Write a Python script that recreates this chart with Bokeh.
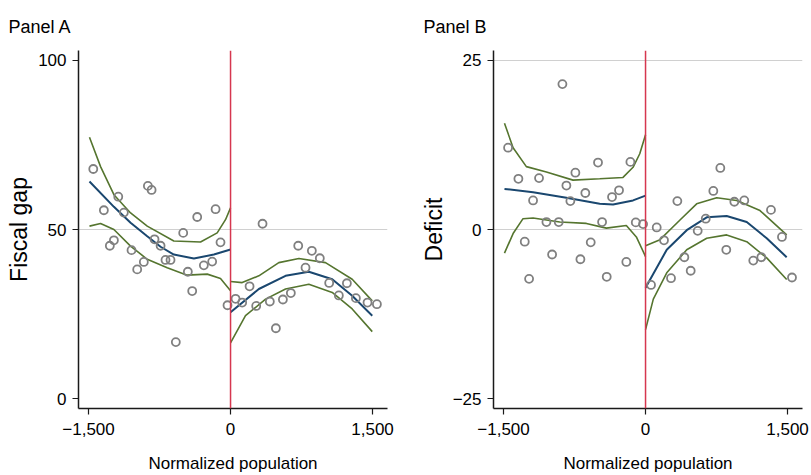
from bokeh.plotting import figure
from bokeh.layouts import row
from bokeh.models import FixedTicker, Span, Range1d
from bokeh.embed import file_html
from bokeh.resources import INLINE

# ---------------- Panel A data (Fiscal gap) ----------------
a_x = [-1450, -1186, -1338, -1127, -873, -834, -352, -158, -500, -106, -1232, -1275,
       -803, -739, -1046, -916, -986, -687, -634, -451, -282, -194, -405, -578, -32,
       338, 715, 859, 943, 792, 201, 1042, 1229, 1144, 1324, 1447, 1546, 637, 553,
       415, 271, 123, 53, 479]
a_y = [67.9, 59.7, 55.7, 55.0, 62.9, 61.7, 53.7, 56.0, 49.0, 46.2, 46.8, 45.2,
       47.1, 45.2, 43.9, 40.4, 38.2, 41.0, 41.0, 37.5, 39.4, 40.5, 31.8, 16.7, 27.6,
       51.7, 45.2, 43.7, 41.5, 38.7, 33.2, 34.2, 34.1, 30.5, 29.7, 28.4, 27.9, 31.2, 29.3,
       28.7, 27.4, 28.4, 29.5, 20.8]

a_fit_l_x = [-1490, -1232, -1056, -880, -739, -599, -387, -176, 0]
a_fit_l_y = [64.2, 56.7, 52.0, 48.0, 44.9, 42.6, 41.4, 42.6, 44.1]
a_hi_l_x = [-1490, -1373, -1232, -1056, -880, -599, -317, -141, -53, 0]
a_hi_l_y = [77.3, 68.6, 60.3, 54.9, 51.0, 46.6, 46.3, 49.0, 52.9, 56.4]
a_lo_l_x = [-1490, -1373, -1232, -1056, -880, -669, -458, -246, -106, 0]
a_lo_l_y = [51.0, 51.8, 50.0, 45.1, 41.2, 38.7, 36.5, 36.8, 35.5, 31.9]

a_fit_r_x = [0, 299, 581, 827, 1074, 1285, 1497]
a_fit_r_y = [25.5, 32.4, 36.3, 37.5, 35.3, 30.4, 24.5]
a_hi_r_x = [0, 123, 299, 510, 722, 1003, 1285, 1497]
a_hi_r_y = [34.6, 34.3, 36.3, 40.2, 41.4, 40.2, 35.3, 28.9]
a_lo_r_x = [0, 158, 370, 581, 827, 1074, 1285, 1497]
a_lo_r_y = [16.5, 24.5, 29.4, 32.4, 33.8, 31.4, 26.5, 19.8]

# ---------------- Panel B data (Deficit) ----------------
b_x = [-878, -1452, -1343, -1125, -741, -502, -160, -836, -636, -1188, -794, -354,
       -280, -1047, -917, -459, -103, -26, -1276, -579, -987, -688, -203, -1230, -410,
       790, 716, 336, 938, 1043, 1325, 636, 118, 551, 195, 1441, 853, 410, 1138, 1223,
       477, 269, 58, 1547]
b_y = [21.5, 12.1, 7.5, 7.6, 8.4, 9.9, 10.0, 6.5, 5.4, 4.3, 4.2, 4.8,
       5.8, 1.1, 1.1, 1.1, 1.05, 0.8, -1.8, -1.9, -3.7, -4.4, -4.8, -7.3, -7.0,
       9.1, 5.7, 4.2, 4.1, 4.3, 2.9, 1.6, 0.3, -0.2, -1.6, -1.1, -3.0, -4.1, -4.6, -4.1,
       -6.1, -7.2, -8.2, -7.1]

b_fit_l_x = [-1490, -1188, -836, -484, -343, -132, 0]
b_fit_l_y = [6.0, 5.5, 4.7, 3.8, 3.7, 4.3, 5.0]
b_hi_l_x = [-1490, -1399, -1259, -1047, -766, -484, -238, -132, -61, 0]
b_hi_l_y = [15.7, 12.1, 9.3, 8.5, 7.3, 7.5, 7.7, 9.2, 11.2, 14.0]
b_lo_l_x = [-1490, -1399, -1294, -1188, -906, -625, -414, -203, -97, 0]
b_lo_l_y = [-3.5, -0.6, 1.6, 1.7, 1.1, 0.9, 0.2, 0.6, -1.1, -4.0]

b_fit_r_x = [0, 224, 435, 646, 857, 1069, 1280, 1491]
b_fit_r_y = [-8.6, -3.0, -0.1, 1.8, 2.0, 1.1, -1.3, -4.1]
b_hi_r_x = [0, 153, 364, 540, 752, 963, 1209, 1491]
b_hi_r_y = [-2.4, -1.5, 1.4, 3.8, 4.7, 4.3, 2.8, -0.8]
b_lo_r_x = [0, 82, 224, 435, 646, 857, 1069, 1280, 1491]
b_lo_r_y = [-14.8, -10.3, -6.4, -3.0, -1.3, -0.8, -1.8, -4.2, -7.4]

x_ticks = [-1500, 0, 1500]
x_tick_labels = {-1500: "\u22121,500", 0: "0", 1500: "1,500"}

FONT = "Liberation Sans"
BLUE = "#1a476f"
GREEN = "#55752f"
GRAY = "#808080"
RED = "#d6374f"


def make_panel(title, ylabel, yr, yticks, ylabels, grid, sx, sy, curves, width, right_border):
    p = figure(width=width, height=475, x_range=Range1d(-1606, 1658), y_range=Range1d(*yr),
               output_backend="svg", toolbar_location=None,
               min_border_left=78, min_border_right=right_border,
               min_border_top=50, min_border_bottom=65)
    p.outline_line_color = None
    p.background_fill_color = "white"
    p.border_fill_color = "white"

    p.title.text = title
    p.title.text_font = FONT
    p.title.text_font_size = "18px"
    p.title.text_font_style = "normal"
    p.title.text_color = "black"
    p.title.offset = -70
    p.title.standoff = 27

    p.xgrid.visible = False
    p.ygrid.ticker = FixedTicker(ticks=grid)
    p.ygrid.grid_line_color = "#d0d0d0"
    p.ygrid.grid_line_width = 1.2

    for ax in (p.xaxis[0], p.yaxis[0]):
        ax.axis_line_color = "#1a1a1a"
        ax.axis_line_width = 1.5
        ax.major_tick_line_color = "#1a1a1a"
        ax.major_tick_line_width = 1.2
        ax.major_tick_in = 0
        ax.major_tick_out = 6
        ax.minor_tick_line_color = None
        ax.major_label_text_font = FONT
        ax.major_label_text_font_size = "17px"
        ax.major_label_text_color = "black"
        ax.axis_label_text_font = FONT
        ax.axis_label_text_font_style = "normal"
        ax.axis_label_text_color = "black"

    p.xaxis.ticker = FixedTicker(ticks=x_ticks)
    p.xaxis.major_label_overrides = x_tick_labels
    p.xaxis.axis_label = "Normalized population"
    p.xaxis.axis_label_text_font_size = "17px"
    p.xaxis.major_label_standoff = 8
    p.xaxis.axis_label_standoff = 16

    p.yaxis.ticker = FixedTicker(ticks=yticks)
    p.yaxis.major_label_overrides = ylabels
    p.yaxis.axis_label = ylabel
    p.yaxis.axis_label_text_font_size = "23px"
    p.yaxis.major_label_standoff = 6
    p.yaxis.axis_label_standoff = 3

    for (cx, cy, col, w) in curves:
        p.line(cx, cy, line_color=col, line_width=w)

    p.scatter(sx, sy, marker="circle", size=8, fill_color=None,
              line_color=GRAY, line_width=1.8)

    p.add_layout(Span(location=0, dimension="height", line_color=RED, line_width=1.5))
    return p


curves_a = [
    (a_hi_l_x, a_hi_l_y, GREEN, 1.6), (a_lo_l_x, a_lo_l_y, GREEN, 1.6), (a_fit_l_x, a_fit_l_y, BLUE, 2),
    (a_hi_r_x, a_hi_r_y, GREEN, 1.6), (a_lo_r_x, a_lo_r_y, GREEN, 1.6), (a_fit_r_x, a_fit_r_y, BLUE, 2),
]
curves_b = [
    (b_hi_l_x, b_hi_l_y, GREEN, 1.6), (b_lo_l_x, b_lo_l_y, GREEN, 1.6), (b_fit_l_x, b_fit_l_y, BLUE, 2),
    (b_hi_r_x, b_hi_r_y, GREEN, 1.6), (b_lo_r_x, b_lo_r_y, GREEN, 1.6), (b_fit_r_x, b_fit_r_y, BLUE, 2),
]

pa = make_panel("Panel A", "Fiscal gap", (-2.94, 102.94), [0, 50, 100],
                {0: "0", 50: "50", 100: "100"}, [50], a_x, a_y, curves_a, 415, 28)
pb = make_panel("Panel B", "Deficit", (-26.47, 26.47), [-25, 0, 25],
                {-25: "\u221225", 0: "0", 25: "25"}, [0, 25], b_x, b_y, curves_b, 396, 9)

layout = row(pa, pb)
open("out.html", "w").write(file_html(layout, INLINE))
